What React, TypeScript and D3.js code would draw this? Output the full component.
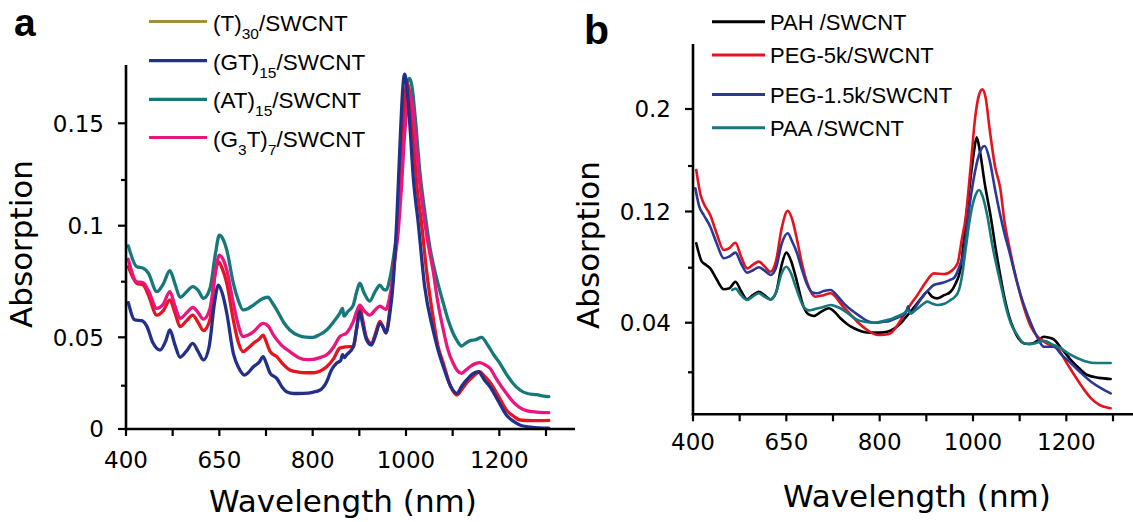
import React from "react";
import * as d3 from "d3";

type Pt = [number, number];

// ---------- shared x axis ----------
const xTickValues = [400, 500, 600, 700, 800, 900, 1000, 1100, 1200, 1300];
const xLabelValues = [400, 600, 800, 1000, 1200];
const xLabelTexts = ["400", "650", "800", "1000", "1200"];

// ---------- panel a ----------
const aYTickValues = [0, 0.025, 0.05, 0.075, 0.1, 0.125, 0.15];
const aYLabelValues = [0, 0.05, 0.1, 0.15];
const aYLabelTexts = ["0", "0.05", "0.1", "0.15"];

const aT30: Pt[] = [
  [405, 0.0817], [423, 0.0743], [437, 0.0735], [448, 0.069], [466, 0.06], [480, 0.062], [494, 0.0668], [505, 0.061],
  [516, 0.0548], [530, 0.0575], [543, 0.06], [555, 0.0565], [566, 0.053], [580, 0.058], [590, 0.077], [598, 0.0839],
  [606, 0.081], [616, 0.0743], [630, 0.0578], [640, 0.048], [651, 0.0426], [662, 0.0445], [673, 0.0469], [685, 0.049],
  [694, 0.051], [700, 0.048], [709, 0.0426], [723, 0.04], [737, 0.036], [751, 0.0331], [770, 0.032], [785, 0.0317],
  [801, 0.0317], [815, 0.0325], [830, 0.0348], [845, 0.039], [858, 0.0444], [870, 0.045], [887, 0.0453], [895, 0.055],
  [901, 0.0637], [907, 0.058], [915, 0.05], [926, 0.0469], [935, 0.052], [944, 0.0572], [950, 0.055], [957, 0.052],
  [965, 0.062], [973, 0.0802], [983, 0.102], [990, 0.13], [996, 0.155], [1002, 0.168], [1008, 0.163], [1015, 0.145],
  [1024, 0.12], [1033, 0.102], [1044, 0.08], [1058, 0.059], [1068, 0.046], [1080, 0.0366], [1095, 0.025], [1109, 0.0196],
  [1120, 0.023], [1130, 0.0264], [1145, 0.03], [1158, 0.0322], [1168, 0.03], [1180, 0.0268], [1198, 0.019], [1215, 0.011],
  [1230, 0.0075], [1244, 0.0052], [1270, 0.0048], [1306, 0.005],
];
const aGT15: Pt[] = [
  [405, 0.0656], [419, 0.0578], [434, 0.0575], [445, 0.0548], [458, 0.047], [473, 0.0434], [485, 0.048], [494, 0.0533],
  [505, 0.046], [516, 0.0397], [530, 0.043], [543, 0.0469], [555, 0.0425], [566, 0.0383], [578, 0.045], [590, 0.066],
  [598, 0.0735], [606, 0.07], [616, 0.0608], [630, 0.0417], [642, 0.034], [654, 0.0305], [663, 0.032], [673, 0.0348],
  [685, 0.037], [694, 0.04], [700, 0.037], [709, 0.0314], [723, 0.0288], [735, 0.024], [744, 0.0215], [760, 0.0205],
  [780, 0.0206], [800, 0.0212], [816, 0.0225], [830, 0.027], [840, 0.033], [851, 0.0366], [860, 0.038], [864, 0.041],
  [868, 0.0395], [873, 0.041], [887, 0.045], [895, 0.055], [901, 0.0615], [907, 0.056], [915, 0.049], [926, 0.046],
  [935, 0.051], [944, 0.0563], [950, 0.055], [957, 0.052], [965, 0.06], [973, 0.0758], [980, 0.102], [988, 0.145],
  [993, 0.165], [997, 0.1717], [1002, 0.166], [1008, 0.15], [1016, 0.125], [1026, 0.102], [1040, 0.0728], [1058, 0.0533],
  [1068, 0.044], [1080, 0.0348], [1095, 0.025], [1109, 0.0206], [1120, 0.025], [1130, 0.028], [1142, 0.031], [1155, 0.0322],
  [1168, 0.028], [1180, 0.0244], [1198, 0.016], [1215, 0.0081], [1230, 0.0045], [1244, 0.0023], [1270, 0.001], [1306, 0.0005],
];
const aAT15: Pt[] = [
  [405, 0.091], [423, 0.0817], [437, 0.081], [448, 0.0788], [466, 0.0705], [480, 0.074], [494, 0.0799], [505, 0.074],
  [516, 0.068], [530, 0.0705], [543, 0.0728], [555, 0.071], [566, 0.0675], [580, 0.072], [592, 0.088], [600, 0.0958],
  [608, 0.094], [616, 0.0891], [630, 0.0743], [640, 0.067], [651, 0.0623], [662, 0.063], [673, 0.0645], [694, 0.0675],
  [705, 0.068], [712, 0.066], [723, 0.0623], [737, 0.057], [751, 0.0533], [770, 0.0508], [785, 0.0501], [801, 0.05],
  [815, 0.0512], [830, 0.0533], [845, 0.057], [858, 0.0608], [864, 0.063], [867, 0.0595], [875, 0.0615], [887, 0.0645],
  [895, 0.071], [901, 0.0743], [910, 0.07], [922, 0.0663], [935, 0.071], [944, 0.0735], [952, 0.0715], [958, 0.0713],
  [964, 0.075], [969, 0.0802], [976, 0.09], [983, 0.102], [990, 0.13], [997, 0.158], [1003, 0.168], [1008, 0.1698],
  [1013, 0.166], [1020, 0.152], [1030, 0.128], [1040, 0.108], [1051, 0.0906], [1065, 0.077], [1080, 0.0653], [1090, 0.058],
  [1101, 0.0518], [1110, 0.048], [1119, 0.0455], [1128, 0.047], [1137, 0.0482], [1150, 0.0488], [1162, 0.05], [1175, 0.046],
  [1188, 0.041], [1201, 0.0366], [1215, 0.031], [1230, 0.026], [1244, 0.0225], [1260, 0.0205], [1280, 0.0198], [1295, 0.019],
  [1306, 0.0187],
];
const aG3T7: Pt[] = [
  [405, 0.085], [423, 0.075], [437, 0.0745], [448, 0.071], [466, 0.063], [480, 0.065], [494, 0.0705], [505, 0.064],
  [516, 0.0585], [530, 0.061], [543, 0.0635], [555, 0.061], [566, 0.0582], [580, 0.063], [592, 0.08], [600, 0.0869],
  [608, 0.085], [616, 0.0802], [630, 0.0653], [640, 0.056], [651, 0.0503], [662, 0.051], [673, 0.0525], [694, 0.0563],
  [705, 0.055], [716, 0.051], [733, 0.046], [751, 0.0426], [770, 0.0395], [785, 0.0385], [801, 0.0386], [815, 0.0395],
  [830, 0.0409], [845, 0.045], [858, 0.0503], [873, 0.052], [887, 0.057], [895, 0.062], [901, 0.0645], [910, 0.062],
  [922, 0.06], [935, 0.0625], [944, 0.064], [957, 0.0626], [964, 0.067], [969, 0.0728], [976, 0.085], [983, 0.0966],
  [990, 0.12], [997, 0.145], [1003, 0.158], [1008, 0.1632], [1014, 0.158], [1022, 0.14], [1030, 0.122], [1040, 0.102],
  [1049, 0.09], [1058, 0.08], [1068, 0.066], [1080, 0.0533], [1090, 0.0435], [1101, 0.0366], [1110, 0.0328], [1119, 0.0314],
  [1128, 0.033], [1137, 0.0348], [1150, 0.0365], [1158, 0.0369], [1168, 0.036], [1180, 0.034], [1195, 0.028], [1215, 0.0206],
  [1230, 0.0155], [1244, 0.0123], [1260, 0.0105], [1280, 0.0098], [1306, 0.0094],
];

// legend texts: [text, isSubscript]
const aLegendLabels: [string, boolean][][] = [
  [["(T)", false], ["30", true], ["/SWCNT", false]],
  [["(GT)", false], ["15", true], ["/SWCNT", false]],
  [["(AT)", false], ["15", true], ["/SWCNT", false]],
  [["(G", false], ["3", true], ["T)", false], ["7", true], ["/SWCNT", false]],
];
const aLegendColors = ["#a68d3b", "#23308a", "#16787a", "#e8177f"];
const aCurves = [aAT15, aT30, aG3T7, aGT15];
const aCurveColors = ["#16787a", "#e4151f", "#e8177f", "#23308a"];

// ---------- panel b ----------
const bYTickValues = [0, 0.04, 0.08, 0.12, 0.16, 0.2];
const bYLabelValues = [0.04, 0.12, 0.2];
const bYLabelTexts = ["0.04", "0.12", "0.2"];

const bPAH: Pt[] = [
  [407, 0.0974], [419, 0.0843], [428, 0.082], [437, 0.0795], [450, 0.072], [466, 0.0643], [478, 0.065], [491, 0.0698],
  [503, 0.063], [516, 0.057], [528, 0.06], [541, 0.0625], [553, 0.06], [566, 0.057], [578, 0.062], [590, 0.082],
  [600, 0.0907], [610, 0.085], [620, 0.0735], [637, 0.0516], [648, 0.046], [659, 0.0449], [675, 0.048], [691, 0.0505],
  [703, 0.048], [716, 0.0432], [730, 0.039], [745, 0.0355], [762, 0.033], [780, 0.032], [800, 0.032], [816, 0.0327],
  [830, 0.035], [845, 0.0395], [856, 0.044], [866, 0.048], [880, 0.054], [892, 0.059], [902, 0.0625], [912, 0.059],
  [924, 0.0577], [938, 0.06], [952, 0.0625], [962, 0.068], [974, 0.0807], [985, 0.115], [995, 0.15], [1002, 0.17],
  [1008, 0.1801], [1015, 0.17], [1025, 0.145], [1038, 0.1163], [1049, 0.0926], [1058, 0.075], [1067, 0.059], [1077, 0.045],
  [1088, 0.0341], [1098, 0.027], [1109, 0.0234], [1118, 0.0228], [1127, 0.0232], [1140, 0.026], [1152, 0.0287], [1162, 0.028],
  [1173, 0.0265], [1190, 0.019], [1210, 0.0099], [1228, 0.003], [1245, -0.0022], [1270, -0.0045], [1295, -0.0054],
];
const bPEG5k: Pt[] = [
  [407, 0.1565], [416, 0.135], [423, 0.127], [437, 0.1175], [450, 0.105], [466, 0.0926], [478, 0.094], [491, 0.0978],
  [503, 0.088], [516, 0.0795], [528, 0.082], [541, 0.0843], [553, 0.081], [566, 0.0771], [578, 0.085], [590, 0.108],
  [603, 0.1206], [612, 0.115], [623, 0.0997], [634, 0.082], [645, 0.0687], [662, 0.0589], [680, 0.06], [695, 0.0614],
  [705, 0.059], [716, 0.0541], [735, 0.047], [752, 0.0407], [770, 0.035], [795, 0.0301], [810, 0.0303], [823, 0.0315],
  [838, 0.038], [852, 0.0456], [866, 0.053], [881, 0.0602], [898, 0.069], [916, 0.0759], [938, 0.0754], [955, 0.078],
  [967, 0.0831], [976, 0.1], [984, 0.115], [994, 0.155], [1005, 0.195], [1013, 0.21], [1020, 0.2138], [1027, 0.208],
  [1036, 0.185], [1047, 0.16], [1059, 0.1389], [1067, 0.114], [1079, 0.093], [1095, 0.0687], [1110, 0.05], [1124, 0.0368],
  [1138, 0.029], [1152, 0.0247], [1166, 0.022], [1181, 0.0194], [1200, 0.008], [1224, -0.0062], [1240, -0.015], [1253, -0.021],
  [1270, -0.026], [1295, -0.029],
];
const bPEG15k: Pt[] = [
  [405, 0.1404], [413, 0.125], [423, 0.1175], [437, 0.1092], [450, 0.098], [466, 0.0867], [478, 0.088], [491, 0.0907],
  [503, 0.083], [516, 0.0764], [528, 0.078], [541, 0.0803], [553, 0.078], [566, 0.0747], [578, 0.08], [590, 0.097],
  [603, 0.1045], [612, 0.099], [623, 0.0903], [634, 0.078], [645, 0.0674], [656, 0.062], [666, 0.0614], [680, 0.063],
  [695, 0.0638], [708, 0.06], [723, 0.0541], [740, 0.049], [759, 0.0444], [775, 0.041], [788, 0.04], [805, 0.0405],
  [823, 0.0415], [840, 0.044], [852, 0.0456], [858, 0.049], [861, 0.052], [864, 0.048], [868, 0.0468], [880, 0.053],
  [895, 0.0602], [905, 0.064], [916, 0.0674], [935, 0.069], [950, 0.071], [959, 0.0725], [970, 0.08], [981, 0.0926],
  [991, 0.12], [1001, 0.1477], [1013, 0.168], [1025, 0.174], [1035, 0.165], [1047, 0.14], [1058, 0.118], [1067, 0.105],
  [1077, 0.0926], [1095, 0.0687], [1110, 0.052], [1124, 0.0396], [1138, 0.028], [1152, 0.0206], [1173, 0.0206], [1190, 0.014],
  [1210, 0.0073], [1230, 0.0], [1253, -0.0076], [1275, -0.013], [1295, -0.017],
];
const bPAA: Pt[] = [
  [484, 0.0638], [491, 0.0648], [503, 0.06], [516, 0.0565], [528, 0.059], [541, 0.0614], [553, 0.059], [566, 0.057],
  [578, 0.062], [590, 0.076], [600, 0.0807], [610, 0.076], [620, 0.0662], [637, 0.0516], [648, 0.049], [659, 0.0497],
  [675, 0.051], [695, 0.0529], [705, 0.052], [716, 0.0505], [735, 0.046], [752, 0.042], [770, 0.0405], [788, 0.04],
  [805, 0.041], [823, 0.0425], [840, 0.045], [852, 0.0468], [860, 0.049], [866, 0.047], [880, 0.05], [895, 0.054],
  [902, 0.0553], [912, 0.054], [924, 0.0529], [940, 0.054], [952, 0.0565], [962, 0.059], [970, 0.0638], [977, 0.075],
  [984, 0.0926], [995, 0.118], [1005, 0.134], [1013, 0.1389], [1020, 0.134], [1030, 0.118], [1042, 0.095], [1059, 0.0687],
  [1070, 0.052], [1081, 0.0396], [1095, 0.03], [1109, 0.0234], [1120, 0.0228], [1131, 0.0232], [1142, 0.0245], [1152, 0.0255],
  [1170, 0.0225], [1188, 0.0194], [1205, 0.015], [1224, 0.0113], [1240, 0.009], [1253, 0.0077], [1275, 0.0075], [1295, 0.0075],
];

const bLegendLabels = ["PAH /SWCNT", "PEG-5k/SWCNT", "PEG-1.5k/SWCNT", "PAA /SWCNT"];
const bLegendColors = ["#000000", "#e4141e", "#2b3895", "#16787a"];
const bCurves = [bPAH, bPEG5k, bPEG15k, bPAA];
const bCurveColors = ["#000000", "#e4141e", "#2b3895", "#16787a"];

const NUM_FONT = "'DejaVu Sans', sans-serif";
const LEG_FONT = "'Liberation Sans', Arial, sans-serif";

interface PanelProps {
  x: d3.ScaleLinear<number, number>;
  y: d3.ScaleLinear<number, number>;
  yTop: number;
  bottom: number;
  xRight: number;
  yTickValues: number[];
  yLabelValues: number[];
  yLabelTexts: string[];
  curves: Pt[][];
  colors: string[];
  strokeW: number;
  xLabelOffset: number;
  xTitlePos: [number, number];
  yTitlePos: [number, number];
}

function Panel(p: PanelProps) {
  const { x, y, bottom } = p;
  const x0 = x.range()[0];
  const line = d3
    .line<Pt>()
    .x((d) => x(d[0]))
    .y((d) => y(d[1]))
    .curve(d3.curveMonotoneX);
  return (
    <g>
      {p.curves.map((c, i) => (
        <path key={i} d={line(c) || ""} fill="none" stroke={p.colors[i]} strokeWidth={p.strokeW} strokeLinejoin="round" strokeLinecap="round" />
      ))}
      <line x1={x0} x2={x0} y1={p.yTop} y2={bottom + 1.2} stroke="#000" strokeWidth={2.6} />
      <line x1={x0 - 1.2} x2={p.xRight} y1={bottom} y2={bottom} stroke="#000" strokeWidth={2.6} />
      {xTickValues.map((v) => (
        <line key={"xt" + v} x1={x(v)} x2={x(v)} y1={bottom} y2={bottom + 7} stroke="#000" strokeWidth={2.2} />
      ))}
      {xLabelValues.map((v, i) => (
        <text key={"xl" + v} x={x(v)} y={bottom + p.xLabelOffset} textAnchor="middle" fontFamily={NUM_FONT} fontSize={23} fill="#000">
          {xLabelTexts[i]}
        </text>
      ))}
      {p.yTickValues.map((v) => {
        const major = p.yLabelValues.indexOf(v) >= 0;
        return <line key={"yt" + v} x1={x0 - (major ? 8 : 5)} x2={x0} y1={y(v)} y2={y(v)} stroke="#000" strokeWidth={2.2} />;
      })}
      {p.yLabelValues.map((v, i) => (
        <text key={"yl" + v} x={x0 - 22} y={y(v)} dy="0.36em" textAnchor="end" fontFamily={NUM_FONT} fontSize={23} fill="#000">
          {p.yLabelTexts[i]}
        </text>
      ))}
      <text x={p.xTitlePos[0]} y={p.xTitlePos[1]} textAnchor="middle" fontFamily={NUM_FONT} fontSize={31} fill="#000">
        Wavelength (nm)
      </text>
      <text
        transform={`translate(${p.yTitlePos[0]},${p.yTitlePos[1]}) rotate(-90)`}
        textAnchor="middle"
        fontFamily={NUM_FONT}
        fontSize={31}
        fill="#000"
      >
        Absorption
      </text>
    </g>
  );
}

export default function App() {
  const xA = d3.scaleLinear().domain([400, 1300]).range([126, 546]);
  const yA = d3.scaleLinear().domain(aYTickValues).range([429, 385.7, 337.3, 281.7, 225.7, 180, 123.3]);
  const xB = d3.scaleLinear().domain([400, 1300]).range([693, 1113]);
  const yB = d3.scaleLinear().domain(bYTickValues).range([372.3, 322.7, 267.7, 211.5, 166, 109]);

  const aLegendY = [21.5, 60.7, 99.3, 137.5];
  const bLegendY = [21.7, 55, 94.5, 127.7];

  return (
    <svg width={1133} height={522} style={{ position: "absolute", left: 0, top: 0, background: "#fff" }}>
      <rect width={1133} height={522} fill="#fff" />
      {/* panel a */}
      <text x={14} y={35.5} fontFamily={LEG_FONT} fontWeight="bold" fontSize={39} fill="#000">a</text>
      <Panel
        x={xA} y={yA} yTop={65} xRight={575} bottom={429}
        yTickValues={aYTickValues} yLabelValues={aYLabelValues} yLabelTexts={aYLabelTexts}
        curves={aCurves} colors={aCurveColors} strokeW={3.3} xLabelOffset={39}
        xTitlePos={[343, 512]} yTitlePos={[32, 244]}
      />
      {aLegendLabels.map((parts, i) => (
        <g key={"la" + i}>
          <line x1={149} x2={207} y1={aLegendY[i]} y2={aLegendY[i]} stroke={aLegendColors[i]} strokeWidth={3.2} />
          <text x={213} y={aLegendY[i] + 9} fontFamily={LEG_FONT} fontSize={22.5} fill="#000">
            {parts.map(([t, sub], j) => {
              const prevSub = j > 0 && parts[j - 1][1];
              const dy = sub ? 8 : prevSub ? -8 : 0;
              return (
                <tspan key={j} dy={dy} fontSize={sub ? 15.5 : 22.5}>
                  {t}
                </tspan>
              );
            })}
          </text>
        </g>
      ))}

      {/* panel b */}
      <text x={584} y={43.5} fontFamily={LEG_FONT} fontWeight="bold" fontSize={41} fill="#000">b</text>
      <Panel
        x={xB} y={yB} yTop={44} xRight={1133} bottom={414.3}
        yTickValues={bYTickValues} yLabelValues={bYLabelValues} yLabelTexts={bYLabelTexts}
        curves={bCurves} colors={bCurveColors} strokeW={2.6} xLabelOffset={36}
        xTitlePos={[917, 507]} yTitlePos={[599, 245]}
      />
      {bLegendLabels.map((t, i) => (
        <g key={"lb" + i}>
          <line x1={712} x2={765} y1={bLegendY[i]} y2={bLegendY[i]} stroke={bLegendColors[i]} strokeWidth={3} />
          <text x={770} y={bLegendY[i] + 8.3} fontFamily={LEG_FONT} fontSize={22} fill="#000">
            {t}
          </text>
        </g>
      ))}
    </svg>
  );
}
